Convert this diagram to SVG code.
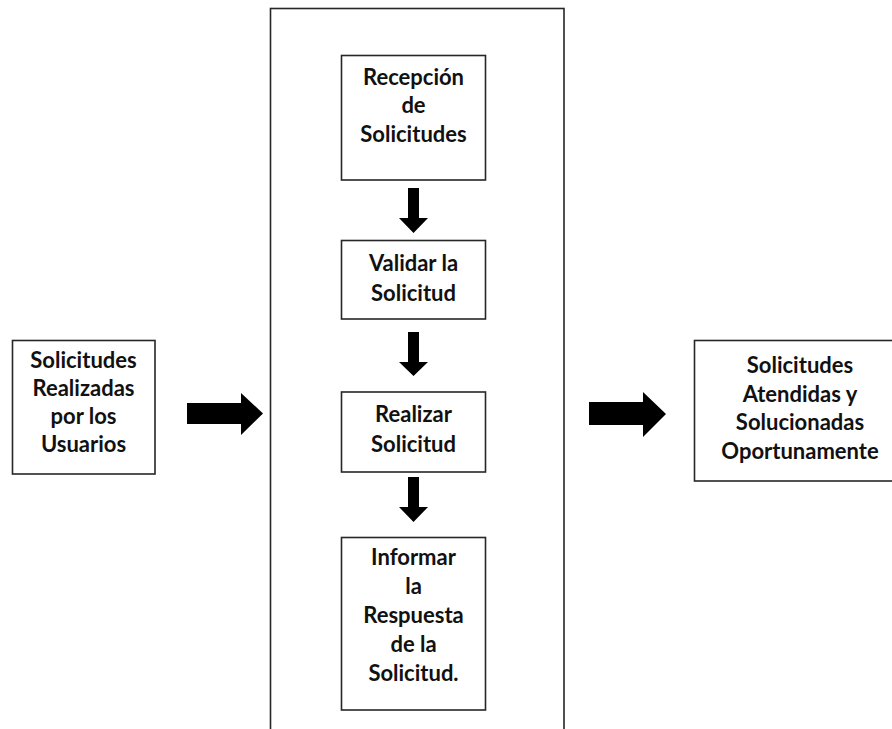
<svg xmlns="http://www.w3.org/2000/svg" width="892" height="729" viewBox="0 0 892 729">
<style>
.box{fill:#fff;stroke:#262626;stroke-width:1.6}
.t{font-family:Lato,"Open Sans","Liberation Sans",sans-serif;font-weight:bold;font-size:22px;fill:#111;text-anchor:middle}
.arr{fill:#000}
</style>
<rect width="892" height="729" fill="#fff"/>
<g id="container">
<rect class="box" x="270.5" y="8.5" width="293.5" height="740"/>
</g>
<g id="n-entrada">
<rect class="box" x="12.5" y="340.5" width="142.5" height="133.5"/>
<text class="t" x="83.5" y="368">Solicitudes</text>
<text class="t" x="83.5" y="396">Realizadas</text>
<text class="t" x="83.5" y="424">por los</text>
<text class="t" x="83.5" y="452">Usuarios</text>
</g>
<g id="n-recepcion">
<rect class="box" x="341.5" y="55.5" width="144" height="124.5"/>
<text class="t" x="413.5" y="85">Recepción</text>
<text class="t" x="413.5" y="113">de</text>
<text class="t" x="413.5" y="142">Solicitudes</text>
</g>
<g id="n-validar">
<rect class="box" x="341.5" y="240.5" width="144" height="78.5"/>
<text class="t" x="413.5" y="271">Validar la</text>
<text class="t" x="413.5" y="301">Solicitud</text>
</g>
<g id="n-realizar">
<rect class="box" x="341.5" y="392" width="144" height="80"/>
<text class="t" x="413.5" y="422">Realizar</text>
<text class="t" x="413.5" y="452">Solicitud</text>
</g>
<g id="n-informar">
<rect class="box" x="341.5" y="537.5" width="144" height="172.5"/>
<text class="t" x="413.5" y="565">Informar</text>
<text class="t" x="413.5" y="594">la</text>
<text class="t" x="413.5" y="623">Respuesta</text>
<text class="t" x="413.5" y="652">de la</text>
<text class="t" x="413.5" y="681">Solicitud.</text>
</g>
<g id="n-salida">
<rect class="box" x="694.5" y="340.5" width="220" height="140.5"/>
<text class="t" x="800" y="373">Solicitudes</text>
<text class="t" x="800" y="402">Atendidas y</text>
<text class="t" x="800" y="430">Solucionadas</text>
<text class="t" x="800" y="459">Oportunamente</text>
</g>
<g id="connectors">
<polygon class="arr" points="187,403 241,403 241,393 263,413.5 241,435 241,424 187,424"/>
<polygon class="arr" points="589,402 643,402 643,392 666,414 643,437 643,425 589,425"/>
<polygon class="arr" points="408,188 419,188 419,218 428,218 413.5,233 399,218 408,218"/>
<polygon class="arr" points="408,332 419,332 419,362 428,362 413.5,376 399,362 408,362"/>
<polygon class="arr" points="408,477 419,477 419,507 428,507 413.5,522 399,507 408,507"/>
</g>
</svg>
